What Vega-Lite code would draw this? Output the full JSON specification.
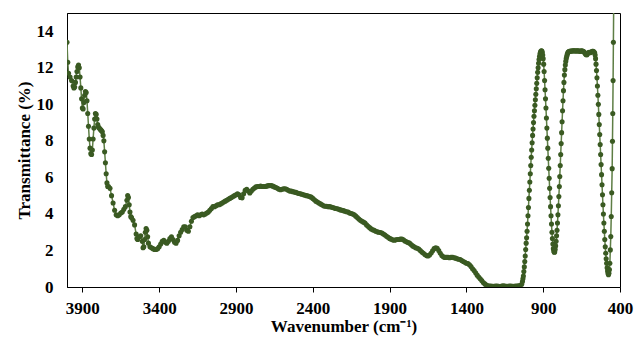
{
  "$schema": "https://vega.github.io/schema/vega-lite/v6.json",
  "width": 553,
  "height": 274,
  "autosize": {"type": "none"},
  "padding": {"left": 67, "top": 13, "right": 14, "bottom": 54},
  "background": "white",
  "config": {
    "view": {"stroke": "#000", "strokeWidth": 1},
    "font": "Liberation Serif",
    "axis": {
      "grid": false,
      "domainColor": "#000",
      "domainWidth": 1,
      "tickColor": "#000",
      "labelColor": "#000",
      "titleColor": "#000",
      "labelFont": "Liberation Serif",
      "titleFont": "Liberation Serif",
      "labelFontSize": 17,
      "labelFontWeight": "bold",
      "titleFontSize": 17,
      "titleFontWeight": "bold",
      "labelFlush": false,
      "labelOverlap": false,
      "labelBound": false
    }
  },
  "data": {"values": [
    {"w":4000,"t":13.4},{"w":3995,"t":12.3},{"w":3990,"t":11.7},{"w":3980,"t":11.5},{"w":3970,"t":11.3},{"w":3960,"t":11.0},{"w":3955,"t":10.9},{"w":3950,"t":10.95},{"w":3945,"t":11.2},{"w":3940,"t":11.5},{"w":3935,"t":11.8},{"w":3930,"t":12.05},{"w":3925,"t":12.15},{"w":3920,"t":12.0},{"w":3915,"t":11.5},{"w":3910,"t":10.9},{"w":3905,"t":10.3},{"w":3900,"t":9.8},{"w":3895,"t":9.75},{"w":3890,"t":10.1},{"w":3885,"t":10.5},{"w":3880,"t":10.7},{"w":3875,"t":10.65},{"w":3870,"t":10.2},{"w":3865,"t":9.5},{"w":3860,"t":8.8},{"w":3855,"t":8.1},{"w":3850,"t":7.6},{"w":3845,"t":7.3},{"w":3840,"t":7.25},{"w":3835,"t":7.5},{"w":3830,"t":8.1},{"w":3825,"t":8.7},{"w":3820,"t":9.2},{"w":3815,"t":9.5},{"w":3810,"t":9.45},{"w":3805,"t":9.2},{"w":3800,"t":8.9},{"w":3795,"t":8.75},{"w":3790,"t":8.7},{"w":3785,"t":8.65},{"w":3780,"t":8.6},{"w":3775,"t":8.55},{"w":3770,"t":8.5},{"w":3765,"t":8.3},{"w":3760,"t":8.0},{"w":3755,"t":7.4},{"w":3750,"t":6.8},{"w":3745,"t":6.2},{"w":3740,"t":5.7},{"w":3735,"t":5.5},{"w":3730,"t":5.5},{"w":3720,"t":5.4},{"w":3710,"t":5.0},{"w":3700,"t":4.6},{"w":3690,"t":4.2},{"w":3680,"t":3.95},{"w":3670,"t":3.9},{"w":3660,"t":3.95},{"w":3650,"t":4.05},{"w":3640,"t":4.1},{"w":3630,"t":4.25},{"w":3620,"t":4.4},{"w":3610,"t":4.75},{"w":3605,"t":5.0},{"w":3600,"t":4.9},{"w":3595,"t":4.5},{"w":3590,"t":4.1},{"w":3585,"t":3.85},{"w":3580,"t":3.8},{"w":3570,"t":3.65},{"w":3560,"t":3.4},{"w":3550,"t":2.9},{"w":3545,"t":2.65},{"w":3540,"t":2.6},{"w":3530,"t":2.75},{"w":3520,"t":2.8},{"w":3510,"t":2.5},{"w":3505,"t":2.15},{"w":3500,"t":2.2},{"w":3495,"t":2.6},{"w":3490,"t":3.0},{"w":3485,"t":3.2},{"w":3480,"t":3.1},{"w":3475,"t":2.75},{"w":3470,"t":2.4},{"w":3460,"t":2.2},{"w":3450,"t":2.15},{"w":3440,"t":2.1},{"w":3430,"t":2.05},{"w":3420,"t":2.05},{"w":3410,"t":2.1},{"w":3400,"t":2.2},{"w":3390,"t":2.35},{"w":3380,"t":2.5},{"w":3370,"t":2.55},{"w":3360,"t":2.45},{"w":3350,"t":2.4},{"w":3340,"t":2.5},{"w":3330,"t":2.65},{"w":3320,"t":2.75},{"w":3310,"t":2.6},{"w":3300,"t":2.45},{"w":3290,"t":2.4},{"w":3280,"t":2.55},{"w":3270,"t":2.8},{"w":3260,"t":3.0},{"w":3250,"t":3.15},{"w":3240,"t":3.3},{"w":3230,"t":3.3},{"w":3220,"t":3.1},{"w":3210,"t":3.05},{"w":3200,"t":3.3},{"w":3190,"t":3.6},{"w":3180,"t":3.8},{"w":3170,"t":3.85},{"w":3160,"t":3.9},{"w":3150,"t":3.95},{"w":3140,"t":3.9},{"w":3130,"t":3.95},{"w":3120,"t":4.0},{"w":3110,"t":3.95},{"w":3100,"t":4.0},{"w":3090,"t":4.05},{"w":3080,"t":4.1},{"w":3070,"t":4.2},{"w":3060,"t":4.3},{"w":3050,"t":4.4},{"w":3040,"t":4.4},{"w":3030,"t":4.45},{"w":3020,"t":4.5},{"w":3010,"t":4.5},{"w":3000,"t":4.55},{"w":2990,"t":4.6},{"w":2980,"t":4.65},{"w":2970,"t":4.7},{"w":2960,"t":4.75},{"w":2950,"t":4.8},{"w":2940,"t":4.85},{"w":2930,"t":4.9},{"w":2920,"t":4.95},{"w":2910,"t":5.0},{"w":2900,"t":5.05},{"w":2890,"t":5.1},{"w":2880,"t":5.05},{"w":2870,"t":4.9},{"w":2860,"t":4.88},{"w":2850,"t":5.1},{"w":2840,"t":5.3},{"w":2830,"t":5.35},{"w":2820,"t":5.25},{"w":2810,"t":5.15},{"w":2800,"t":5.25},{"w":2790,"t":5.35},{"w":2780,"t":5.42},{"w":2770,"t":5.48},{"w":2760,"t":5.5},{"w":2750,"t":5.5},{"w":2740,"t":5.52},{"w":2730,"t":5.5},{"w":2720,"t":5.5},{"w":2710,"t":5.5},{"w":2700,"t":5.52},{"w":2690,"t":5.55},{"w":2680,"t":5.55},{"w":2670,"t":5.55},{"w":2660,"t":5.52},{"w":2650,"t":5.48},{"w":2640,"t":5.45},{"w":2630,"t":5.4},{"w":2620,"t":5.35},{"w":2610,"t":5.33},{"w":2600,"t":5.35},{"w":2590,"t":5.38},{"w":2580,"t":5.38},{"w":2570,"t":5.35},{"w":2560,"t":5.3},{"w":2550,"t":5.25},{"w":2540,"t":5.25},{"w":2530,"t":5.22},{"w":2520,"t":5.2},{"w":2510,"t":5.18},{"w":2500,"t":5.15},{"w":2490,"t":5.12},{"w":2480,"t":5.1},{"w":2470,"t":5.08},{"w":2460,"t":5.05},{"w":2450,"t":5.02},{"w":2440,"t":5.0},{"w":2430,"t":4.98},{"w":2420,"t":4.95},{"w":2410,"t":4.92},{"w":2400,"t":4.85},{"w":2390,"t":4.78},{"w":2380,"t":4.7},{"w":2370,"t":4.65},{"w":2360,"t":4.6},{"w":2350,"t":4.55},{"w":2340,"t":4.5},{"w":2330,"t":4.45},{"w":2320,"t":4.42},{"w":2310,"t":4.42},{"w":2300,"t":4.4},{"w":2290,"t":4.4},{"w":2280,"t":4.38},{"w":2270,"t":4.35},{"w":2260,"t":4.32},{"w":2250,"t":4.3},{"w":2240,"t":4.28},{"w":2230,"t":4.25},{"w":2220,"t":4.22},{"w":2210,"t":4.2},{"w":2200,"t":4.18},{"w":2190,"t":4.15},{"w":2180,"t":4.12},{"w":2170,"t":4.1},{"w":2160,"t":4.05},{"w":2150,"t":4.02},{"w":2140,"t":4.0},{"w":2130,"t":3.95},{"w":2120,"t":3.88},{"w":2110,"t":3.8},{"w":2100,"t":3.72},{"w":2090,"t":3.65},{"w":2080,"t":3.6},{"w":2070,"t":3.55},{"w":2060,"t":3.5},{"w":2050,"t":3.4},{"w":2040,"t":3.32},{"w":2030,"t":3.25},{"w":2020,"t":3.18},{"w":2010,"t":3.13},{"w":2000,"t":3.1},{"w":1990,"t":3.05},{"w":1980,"t":3.02},{"w":1970,"t":3.0},{"w":1960,"t":2.98},{"w":1950,"t":2.95},{"w":1940,"t":2.9},{"w":1930,"t":2.85},{"w":1920,"t":2.78},{"w":1910,"t":2.72},{"w":1900,"t":2.66},{"w":1890,"t":2.62},{"w":1880,"t":2.58},{"w":1870,"t":2.56},{"w":1860,"t":2.58},{"w":1850,"t":2.6},{"w":1840,"t":2.6},{"w":1830,"t":2.62},{"w":1820,"t":2.62},{"w":1810,"t":2.58},{"w":1800,"t":2.52},{"w":1790,"t":2.48},{"w":1780,"t":2.44},{"w":1770,"t":2.4},{"w":1760,"t":2.32},{"w":1750,"t":2.25},{"w":1740,"t":2.2},{"w":1730,"t":2.15},{"w":1720,"t":2.12},{"w":1710,"t":2.08},{"w":1700,"t":2.0},{"w":1690,"t":1.92},{"w":1680,"t":1.85},{"w":1670,"t":1.78},{"w":1660,"t":1.72},{"w":1650,"t":1.7},{"w":1640,"t":1.75},{"w":1630,"t":1.85},{"w":1620,"t":1.98},{"w":1610,"t":2.1},{"w":1600,"t":2.15},{"w":1590,"t":2.12},{"w":1580,"t":2.0},{"w":1570,"t":1.85},{"w":1560,"t":1.72},{"w":1550,"t":1.65},{"w":1540,"t":1.62},{"w":1530,"t":1.62},{"w":1520,"t":1.63},{"w":1510,"t":1.6},{"w":1500,"t":1.62},{"w":1490,"t":1.63},{"w":1480,"t":1.6},{"w":1470,"t":1.58},{"w":1460,"t":1.55},{"w":1450,"t":1.52},{"w":1440,"t":1.5},{"w":1430,"t":1.45},{"w":1420,"t":1.4},{"w":1410,"t":1.35},{"w":1400,"t":1.3},{"w":1390,"t":1.28},{"w":1380,"t":1.22},{"w":1370,"t":1.12},{"w":1360,"t":1.0},{"w":1350,"t":0.9},{"w":1340,"t":0.78},{"w":1330,"t":0.65},{"w":1320,"t":0.55},{"w":1310,"t":0.45},{"w":1300,"t":0.35},{"w":1290,"t":0.25},{"w":1280,"t":0.17},{"w":1270,"t":0.1},{"w":1260,"t":0.07},{"w":1250,"t":0.05},{"w":1240,"t":0.05},{"w":1230,"t":0.04},{"w":1220,"t":0.04},{"w":1210,"t":0.05},{"w":1200,"t":0.05},{"w":1190,"t":0.04},{"w":1180,"t":0.03},{"w":1170,"t":0.05},{"w":1160,"t":0.06},{"w":1150,"t":0.05},{"w":1140,"t":0.04},{"w":1130,"t":0.04},{"w":1120,"t":0.05},{"w":1110,"t":0.05},{"w":1100,"t":0.04},{"w":1090,"t":0.04},{"w":1080,"t":0.05},{"w":1070,"t":0.05},{"w":1060,"t":0.06},{"w":1050,"t":0.08},{"w":1040,"t":0.15},{"w":1035,"t":0.3},{"w":1032,"t":0.45},
    {"w":1029,"t":0.6},{"w":1026,"t":0.85},{"w":1023,"t":1.1},{"w":1020,"t":1.4},{"w":1017,"t":1.7},{"w":1014,"t":2.05},{"w":1011,"t":2.4},{"w":1008,"t":2.7},{"w":1005,"t":3.05},{"w":1002,"t":3.45},{"w":999,"t":3.9},{"w":996,"t":4.35},{"w":993,"t":4.85},{"w":990,"t":5.3},{"w":987,"t":5.75},{"w":984,"t":6.2},{"w":981,"t":6.65},{"w":978,"t":7.1},{"w":975,"t":7.5},{"w":972,"t":7.9},{"w":969,"t":8.3},{"w":966,"t":8.65},{"w":963,"t":9.0},{"w":960,"t":9.35},{"w":957,"t":9.65},{"w":954,"t":9.95},{"w":951,"t":10.25},{"w":948,"t":10.55},{"w":945,"t":10.85},{"w":942,"t":11.15},{"w":939,"t":11.45},{"w":936,"t":11.75},{"w":933,"t":12.0},{"w":930,"t":12.25},{"w":927,"t":12.45},{"w":924,"t":12.62},{"w":921,"t":12.75},{"w":918,"t":12.85},{"w":915,"t":12.9},{"w":912,"t":12.93},{"w":909,"t":12.92},{"w":906,"t":12.85},{"w":903,"t":12.7},{"w":900,"t":12.5},
    {"w":897,"t":12.2},{"w":894,"t":11.8},{"w":891,"t":11.3},{"w":888,"t":10.8},{"w":885,"t":10.3},{"w":882,"t":9.8},{"w":879,"t":9.25},{"w":876,"t":8.7},{"w":873,"t":8.15},{"w":870,"t":7.6},{"w":867,"t":7.05},{"w":864,"t":6.5},{"w":861,"t":5.95},{"w":858,"t":5.4},{"w":855,"t":4.9},{"w":852,"t":4.4},{"w":849,"t":3.9},{"w":846,"t":3.45},{"w":843,"t":3.0},{"w":840,"t":2.65},{"w":837,"t":2.35},{"w":834,"t":2.1},{"w":831,"t":1.97},{"w":828,"t":1.9},{"w":825,"t":1.92},{"w":822,"t":2.05},{"w":819,"t":2.25},{"w":816,"t":2.5},{"w":813,"t":2.8},{"w":810,"t":3.1},{"w":807,"t":3.5},{"w":804,"t":3.95},{"w":801,"t":4.45},{"w":798,"t":4.95},{"w":795,"t":5.5},{"w":792,"t":6.05},{"w":789,"t":6.65},{"w":786,"t":7.25},{"w":783,"t":7.85},{"w":780,"t":8.45},{"w":777,"t":9.05},{"w":774,"t":9.65},{"w":771,"t":10.2},{"w":768,"t":10.75},{"w":765,"t":11.2},{"w":762,"t":11.6},{"w":759,"t":11.9},{"w":756,"t":12.15},{"w":753,"t":12.35},{"w":750,"t":12.5},{"w":747,"t":12.62},{"w":744,"t":12.72},{"w":741,"t":12.8},{"w":738,"t":12.85},{"w":735,"t":12.88},
    {"w":730,"t":12.9},{"w":725,"t":12.9},{"w":720,"t":12.92},{"w":715,"t":12.92},{"w":710,"t":12.92},{"w":705,"t":12.93},{"w":700,"t":12.93},{"w":695,"t":12.93},{"w":690,"t":12.92},{"w":685,"t":12.92},{"w":680,"t":12.93},{"w":675,"t":12.93},{"w":670,"t":12.92},{"w":665,"t":12.92},{"w":660,"t":12.9},{"w":655,"t":12.92},{"w":650,"t":12.93},{"w":645,"t":12.92},{"w":640,"t":12.9},{"w":635,"t":12.88},{"w":630,"t":12.82},{"w":625,"t":12.76},{"w":620,"t":12.72},{"w":615,"t":12.72},{"w":610,"t":12.78},{"w":605,"t":12.84},{"w":600,"t":12.85},{"w":595,"t":12.83},{"w":590,"t":12.85},{"w":585,"t":12.88},{"w":580,"t":12.9},{"w":575,"t":12.9},{"w":570,"t":12.88},{"w":565,"t":12.82},{"w":562,"t":12.7},{"w":559,"t":12.5},{"w":556,"t":12.2},{"w":553,"t":11.85},{"w":550,"t":11.45},{"w":547,"t":11.0},{"w":544,"t":10.5},{"w":541,"t":10.0},{"w":538,"t":9.45},{"w":535,"t":8.9},{"w":532,"t":8.35},{"w":529,"t":7.8},{"w":526,"t":7.25},{"w":523,"t":6.7},{"w":520,"t":6.15},{"w":517,"t":5.6},{"w":514,"t":5.05},{"w":511,"t":4.5},{"w":508,"t":4.0},{"w":505,"t":3.5},{"w":502,"t":3.05},{"w":499,"t":2.6},{"w":496,"t":2.2},{"w":493,"t":1.85},{"w":490,"t":1.55},{"w":487,"t":1.3},{"w":484,"t":1.05},{"w":481,"t":0.87},{"w":478,"t":0.74},{"w":475,"t":0.67},{"w":472,"t":0.75},{"w":469,"t":0.95},{"w":466,"t":1.3},{"w":463,"t":2.03},{"w":460,"t":2.76},{"w":457,"t":3.86},{"w":454,"t":5.16},{"w":451,"t":6.48},{"w":449,"t":7.98},{"w":447,"t":9.5},{"w":445,"t":11.3},{"w":443,"t":13.4},{"w":441,"t":15.5},{"w":439,"t":17.5}
  ]},
  "encoding": {
    "x": {
      "field": "w", "type": "quantitative",
      "scale": {"domain": [400, 4000], "reverse": true, "nice": false, "zero": false},
      "axis": {"values": [3900, 3400, 2900, 2400, 1900, 1400, 900, 400], "format": "d", "tickSize": 5, "labelPadding": 8, "title": "Wavenumber (cm⁻¹)", "titlePadding": 2}
    },
    "y": {
      "field": "t", "type": "quantitative",
      "scale": {"domain": [0, 15], "nice": false},
      "axis": {"values": [0, 2, 4, 6, 8, 10, 12, 14], "ticks": false, "labelPadding": 14, "title": "Transmittance (%)", "titlePadding": 3}
    }
  },
  "layer": [
    {"mark": {"type": "line", "clip": true, "color": "#5E7E45", "strokeWidth": 1.5}},
    {"mark": {"type": "point", "clip": true, "filled": true, "color": "#3A5A22", "opacity": 1, "size": 26}}
  ]
}
